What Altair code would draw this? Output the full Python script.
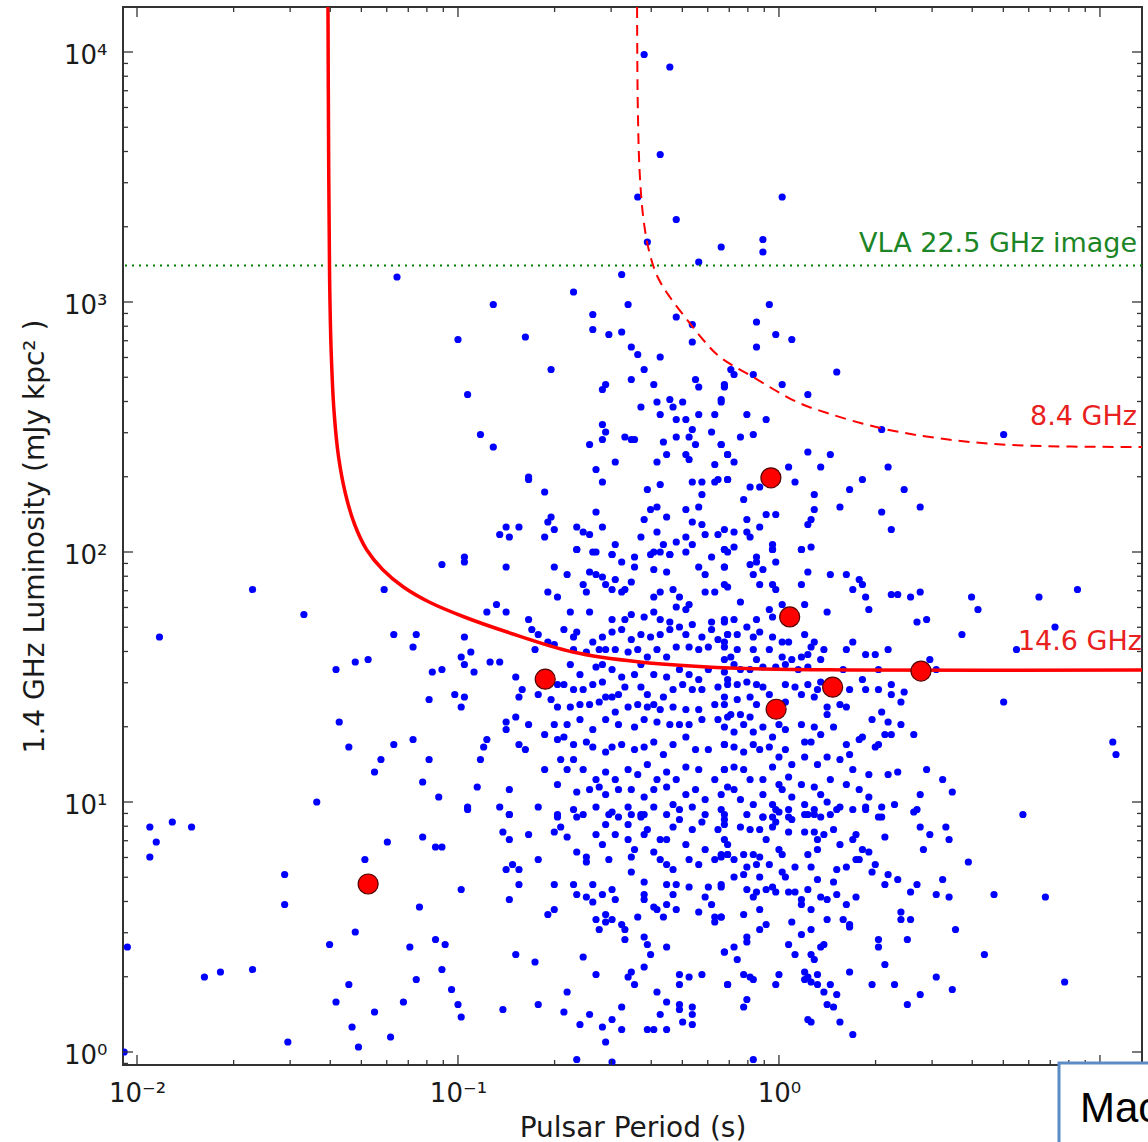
import altair as alt
import pandas as pd

# ---------------- data ----------------
# blue pulsars, stored as (log10 period [s], log10 luminosity [mJy kpc^2])
top_strays = [(-0.42, 3.99), (-0.34, 3.94), (-0.37, 3.59), (-0.44, 3.42), (-0.32, 3.33),
              (-0.41, 3.24), (-0.25, 3.16), (-1.19, 3.10), (0.01, 3.42), (-0.05, 3.25),
              (-0.05, 3.20), (-0.18, 3.22)]

upper_left = [(-0.49, 3.11), (-0.64, 3.04), (-0.89, 2.99), (-0.47, 2.99), (-0.58, 2.95), (-0.32, 2.94),
              (-0.27, 2.91), (-0.58, 2.89), (-0.53, 2.87), (-0.49, 2.88), (-1.00, 2.85), (-0.79, 2.86),
              (-0.46, 2.82), (-0.44, 2.79), (-0.37, 2.78), (-0.27, 2.84), (-0.71, 2.73), (-0.42, 2.73),
              (-0.54, 2.67), (-0.55, 2.65), (-0.46, 2.69), (-0.39, 2.67), (-0.26, 2.69), (-0.25, 2.66),
              (-0.17, 2.67), (-0.97, 2.63), (-0.43, 2.58), (-0.38, 2.60), (-0.34, 2.61), (-0.30, 2.60),
              (-0.33, 2.58), (-0.37, 2.55), (-0.32, 2.53), (-0.29, 2.53), (-0.25, 2.55), (-0.20, 2.55),
              (-0.18, 2.61), (-0.55, 2.51), (-0.54, 2.48), (-0.55, 2.45), (-0.59, 2.43), (-0.48, 2.46),
              (-0.46, 2.45), (-0.45, 2.45), (-0.36, 2.44), (-0.32, 2.46), (-0.27, 2.49), (-0.28, 2.46),
              (-0.26, 2.43), (-0.21, 2.48), (-0.18, 2.43), (-0.16, 2.39), (-0.93, 2.47), (-0.89, 2.42),
              (-0.51, 2.36), (-0.57, 2.33), (-0.38, 2.36), (-0.35, 2.39), (-0.29, 2.39), (-0.28, 2.37),
              (-0.20, 2.35), (-0.55, 2.28), (-0.41, 2.25), (-0.37, 2.27), (-0.78, 2.29), (-0.78, 2.30),
              (-0.73, 2.24), (-0.27, 2.28), (-0.24, 2.28), (-0.20, 2.28), (-0.19, 2.29), (-0.16, 2.29),
              (-0.24, 2.23), (-0.57, 2.16), (-0.42, 2.13), (-0.40, 2.17), (-0.38, 2.18), (-0.35, 2.14),
              (-0.29, 2.17), (-0.25, 2.18), (-0.27, 2.12), (-0.24, 2.11), (-0.71, 2.14), (-0.72, 2.12),
              (-0.70, 2.09), (-0.85, 2.10), (-0.81, 2.10), (-0.87, 2.07), (-0.84, 2.06), (-0.73, 2.06),
              (-0.63, 2.10), (-0.61, 2.08), (-0.59, 2.07), (-0.55, 2.10), (-0.51, 2.03), (-0.43, 2.06),
              (-0.38, 2.08), (-0.36, 2.03), (-0.32, 2.04), (-0.29, 2.06), (-0.27, 2.03), (-0.23, 2.07),
              (-0.19, 2.07), (-0.17, 2.01), (-0.63, 2.01), (-0.57, 2.00), (-0.52, 1.99), (-0.39, 2.00),
              (-0.34, 1.99), (-0.98, 1.98)]

upper_right = [(-0.03, 2.99), (-0.07, 2.92), (-0.01, 2.87), (0.04, 2.85), (-0.07, 2.82), (0.18, 2.72),
               (-0.15, 2.73), (-0.14, 2.71), (-0.08, 2.71), (0.01, 2.67), (-0.17, 2.66), (0.09, 2.63),
               (-0.18, 2.60), (0.32, 2.49), (0.70, 2.47), (-0.10, 2.55), (-0.04, 2.53), (-0.12, 2.46),
               (-0.08, 2.47), (-0.18, 2.43), (-0.16, 2.39), (-0.14, 2.36), (0.09, 2.40), (0.16, 2.39),
               (0.03, 2.34), (0.13, 2.34), (0.34, 2.34), (-0.16, 2.29), (0.05, 2.28), (-0.09, 2.26),
               (-0.06, 2.26), (-0.11, 2.21), (0.11, 2.23), (0.22, 2.25), (0.26, 2.29), (0.39, 2.25),
               (0.19, 2.18), (0.11, 2.17), (0.32, 2.16), (0.44, 2.18), (-0.04, 2.15), (-0.01, 2.15),
               (-0.10, 2.13), (0.10, 2.13), (0.09, 2.11), (0.35, 2.09), (-0.17, 2.09), (-0.14, 2.08),
               (-0.06, 2.10), (-0.10, 2.08), (-0.09, 2.06), (-0.14, 2.02), (-0.17, 2.01), (-0.02, 2.03),
               (-0.02, 2.01), (0.07, 2.01), (0.10, 2.02), (-0.07, 1.98)]

mid_left = [(-1.05, 1.95), (-0.98, 1.96), (-0.85, 1.94), (-0.70, 1.94), (-0.66, 1.91), (-0.63, 2.01),
            (-0.58, 2.00), (-0.59, 1.92), (-0.57, 1.91), (-0.55, 1.90), (-0.54, 1.87), (-0.52, 1.99),
            (-0.49, 1.96), (-0.51, 1.89), (-0.48, 1.85), (-0.45, 1.94), (-0.46, 1.88), (-0.45, 1.98),
            (-0.40, 1.99), (-0.39, 1.93), (-0.37, 2.00), (-0.34, 1.99), (-0.35, 1.92), (-0.29, 2.00),
            (-0.25, 1.94), (-0.23, 1.91), (-0.21, 1.98), (-0.17, 1.94), (-0.16, 2.00), (-0.72, 1.84),
            (-0.69, 1.82), (-0.61, 1.87), (-0.60, 1.84), (-0.52, 1.85), (-0.49, 1.84), (-0.39, 1.82),
            (-0.37, 1.84), (-0.33, 1.85), (-0.31, 1.82), (-0.28, 1.79), (-0.23, 1.84), (-0.20, 1.84),
            (-0.16, 1.86), (-0.88, 1.79), (-0.91, 1.76), (-0.85, 1.76), (-0.65, 1.76), (-0.59, 1.76),
            (-0.52, 1.73), (-0.48, 1.73), (-0.46, 1.75), (-0.42, 1.74), (-0.39, 1.76), (-0.37, 1.73),
            (-0.34, 1.72), (-0.32, 1.78), (-0.29, 1.77), (-0.27, 1.71), (-0.21, 1.72), (-0.17, 1.73),
            (-0.78, 1.73), (-0.77, 1.69), (-0.75, 1.67), (-0.67, 1.69), (-0.63, 1.68), (-0.64, 1.66),
            (-0.58, 1.64), (-0.55, 1.66), (-0.52, 1.68), (-0.49, 1.69), (-0.46, 1.65), (-0.43, 1.67),
            (-0.40, 1.66), (-0.37, 1.67), (-0.34, 1.69), (-0.31, 1.70), (-0.29, 1.67), (-0.24, 1.66),
            (-0.21, 1.69), (-0.19, 1.65), (-0.16, 1.67), (-0.98, 1.66), (-0.99, 1.58), (-0.96, 1.60),
            (-0.98, 1.55), (-0.90, 1.56), (-0.87, 1.56), (-0.95, 1.52), (-1.05, 1.53), (-0.76, 1.61),
            (-0.72, 1.64), (-0.70, 1.63), (-0.64, 1.61), (-0.60, 1.60), (-0.56, 1.61), (-0.54, 1.61),
            (-0.51, 1.61), (-0.47, 1.60), (-0.44, 1.61), (-0.41, 1.58), (-0.38, 1.61), (-0.35, 1.58),
            (-0.32, 1.62), (-0.28, 1.62), (-0.25, 1.61), (-0.22, 1.62), (-0.17, 1.62), (-0.65, 1.55),
            (-0.62, 1.51), (-0.57, 1.54), (-0.55, 1.55), (-0.52, 1.53), (-0.49, 1.50), (-0.45, 1.51),
            (-0.43, 1.55), (-0.39, 1.51), (-0.35, 1.50), (-0.31, 1.53), (-0.28, 1.51), (-0.25, 1.49),
            (-0.22, 1.53), (-0.17, 1.52), (-0.82, 1.50), (-0.75, 1.43), (-0.71, 1.41), (-0.69, 1.47),
            (-0.67, 1.47), (-0.64, 1.45), (-0.61, 1.45), (-0.58, 1.47), (-0.55, 1.48), (-0.52, 1.42),
            (-0.50, 1.43), (-0.48, 1.46), (-0.43, 1.46), (-0.41, 1.43), (-0.39, 1.39), (-0.36, 1.42),
            (-0.33, 1.45), (-0.30, 1.47), (-0.27, 1.45), (-0.24, 1.45), (-0.19, 1.46), (-0.16, 1.47),
            (-1.01, 1.43), (-0.98, 1.42), (-0.99, 1.38), (-0.81, 1.42), (-0.80, 1.45), (-0.69, 1.38),
            (-0.65, 1.38), (-0.62, 1.39), (-0.59, 1.39), (-0.56, 1.40), (-0.54, 1.42), (-0.51, 1.36),
            (-0.47, 1.38), (-0.44, 1.39), (-0.41, 1.38), (-0.37, 1.37), (-0.33, 1.38), (-0.29, 1.37),
            (-0.25, 1.37), (-0.20, 1.39), (-0.17, 1.39), (-0.85, 1.32), (-0.82, 1.34), (-0.78, 1.31),
            (-0.85, 1.29), (-0.70, 1.31), (-0.66, 1.31), (-0.62, 1.33), (-0.58, 1.29), (-0.54, 1.33),
            (-0.50, 1.31), (-0.45, 1.30), (-0.42, 1.33), (-0.38, 1.32), (-0.34, 1.31), (-0.31, 1.31),
            (-0.28, 1.31), (-0.24, 1.33), (-0.19, 1.33), (-0.16, 1.34), (-0.91, 1.25), (-0.92, 1.22),
            (-0.93, 1.17), (-0.81, 1.23), (-0.79, 1.21), (-0.73, 1.27), (-0.69, 1.25), (-0.67, 1.26),
            (-0.64, 1.23), (-0.60, 1.24), (-0.58, 1.22), (-0.54, 1.20), (-0.52, 1.22), (-0.49, 1.23),
            (-0.45, 1.21), (-0.42, 1.22), (-0.39, 1.24), (-0.36, 1.19), (-0.33, 1.23), (-0.29, 1.26),
            (-0.26, 1.21), (-0.22, 1.21), (-0.17, 1.23), (-0.73, 1.13), (-0.68, 1.17), (-0.64, 1.17),
            (-0.66, 1.13), (-0.61, 1.13), (-0.57, 1.09), (-0.54, 1.12), (-0.51, 1.09), (-0.47, 1.13),
            (-0.44, 1.11), (-0.41, 1.15), (-0.38, 1.09), (-0.35, 1.12), (-0.32, 1.09), (-0.29, 1.14),
            (-0.25, 1.13), (-0.20, 1.09), (-0.17, 1.13), (-0.94, 1.06), (-0.84, 1.05), (-0.69, 1.07),
            (-0.63, 1.04), (-0.59, 1.05), (-0.56, 1.06), (-0.54, 1.03), (-0.50, 1.05), (-0.46, 1.05),
            (-0.42, 1.02), (-0.39, 1.05), (-0.35, 1.06), (-0.33, 0.99), (-0.29, 1.03), (-0.26, 1.05),
            (-0.23, 1.01), (-0.18, 1.03), (-0.16, 1.06), (-0.97, 0.98), (-0.87, 0.98), (-0.84, 0.95),
            (-0.75, 0.98), (-0.69, 0.95), (-0.64, 0.97), (-0.61, 0.95), (-0.57, 0.98), (-0.52, 0.96),
            (-0.47, 0.98), (-0.43, 0.95), (-0.39, 0.98), (-0.35, 0.95), (-0.31, 0.97), (-0.27, 0.98),
            (-0.23, 0.95), (-0.18, 0.97)]

mid_right = [(-0.17, 1.94), (-0.17, 1.87), (-0.09, 1.95), (-0.07, 1.96), (-0.08, 1.91), (-0.05, 1.93),
             (-0.06, 1.87), (-0.01, 1.96), (-0.02, 2.01), (0.07, 2.01), (-0.02, 1.87), (-0.01, 1.85),
             (0.07, 1.87), (0.09, 1.92), (0.16, 1.91), (0.21, 1.91), (0.25, 1.89), (0.26, 1.87),
             (0.23, 1.85), (0.27, 1.82), (0.28, 1.77), (0.35, 1.83), (0.37, 1.83), (0.41, 1.82),
             (0.44, 1.84), (0.60, 1.82), (0.62, 1.77), (0.57, 1.67), (0.46, 1.73), (0.43, 1.72),
             (-0.12, 1.80), (-0.14, 1.73), (-0.17, 1.72), (-0.10, 1.70), (-0.07, 1.73), (-0.03, 1.77),
             (-0.02, 1.74), (0.01, 1.79), (0.08, 1.79), (0.15, 1.76), (-0.16, 1.67), (-0.17, 1.64),
             (-0.13, 1.67), (-0.08, 1.66), (-0.06, 1.68), (-0.02, 1.66), (0.01, 1.64), (0.03, 1.64),
             (0.08, 1.67), (0.11, 1.64), (0.10, 1.62), (0.14, 1.61), (0.13, 1.57), (0.09, 1.59),
             (0.07, 1.58), (0.04, 1.57), (0.01, 1.58), (-0.03, 1.61), (-0.08, 1.61), (-0.07, 1.57),
             (-0.13, 1.61), (-0.15, 1.58), (-0.14, 1.55), (-0.17, 1.57), (0.21, 1.61), (0.23, 1.64),
             (0.27, 1.59), (0.30, 1.59), (0.34, 1.61), (0.47, 1.57), (0.49, 1.53), (-0.12, 1.53),
             (-0.09, 1.53), (-0.05, 1.54), (-0.01, 1.54), (0.02, 1.55), (0.06, 1.53), (0.09, 1.54),
             (0.20, 1.53), (0.26, 1.49), (0.31, 1.53), (-0.16, 1.49), (-0.13, 1.47), (-0.10, 1.48),
             (-0.07, 1.47), (-0.05, 1.46), (-0.03, 1.43), (0.02, 1.47), (0.05, 1.46), (0.09, 1.47),
             (0.07, 1.43), (0.13, 1.48), (0.12, 1.45), (0.22, 1.45), (0.27, 1.45), (0.31, 1.45),
             (0.35, 1.47), (0.39, 1.44), (0.35, 1.43), (0.38, 1.40), (-0.17, 1.42), (-0.13, 1.41),
             (-0.09, 1.42), (-0.07, 1.39), (-0.12, 1.35), (-0.15, 1.35), (-0.09, 1.34), (0.02, 1.40),
             (0.11, 1.42), (0.15, 1.38), (0.19, 1.39), (0.21, 1.38), (0.15, 1.35), (0.29, 1.33),
             (0.32, 1.36), (0.34, 1.32), (0.38, 1.31), (0.42, 1.27), (0.33, 1.27), (0.35, 1.27),
             (-0.17, 1.30), (-0.14, 1.28), (-0.11, 1.31), (-0.08, 1.28), (-0.05, 1.30), (0.00, 1.31),
             (-0.02, 1.26), (0.02, 1.29), (0.07, 1.31), (0.11, 1.30), (0.13, 1.27), (0.17, 1.30),
             (0.10, 1.24), (0.08, 1.24), (0.21, 1.23), (0.22, 1.19), (0.25, 1.25), (0.30, 1.22),
             (0.31, 1.23), (0.26, 1.26), (-0.17, 1.23), (-0.14, 1.22), (-0.11, 1.20), (-0.08, 1.23),
             (-0.06, 1.21), (-0.03, 1.22), (0.00, 1.18), (0.02, 1.21), (0.04, 1.15), (0.08, 1.18),
             (0.12, 1.15), (0.15, 1.18), (0.19, 1.17), (0.23, 1.13), (0.28, 1.11), (0.34, 1.11),
             (0.37, 1.12), (0.46, 1.13), (0.51, 1.09), (0.54, 1.04), (0.44, 1.03), (-0.17, 1.13),
             (-0.14, 1.14), (-0.11, 1.13), (-0.09, 1.09), (-0.05, 1.09), (-0.02, 1.14), (0.00, 1.07),
             (0.03, 1.10), (0.07, 1.07), (0.11, 1.06), (0.13, 1.03), (0.16, 1.09), (0.21, 1.07),
             (0.25, 1.05), (0.28, 1.02), (0.32, 0.98), (0.36, 0.99), (-0.14, 1.05), (-0.12, 1.01),
             (-0.08, 0.99), (-0.05, 1.03), (-0.02, 0.99), (0.01, 1.05), (0.04, 1.02), (0.08, 0.99),
             (0.11, 0.97), (0.15, 1.00), (0.19, 0.98), (0.23, 0.97), (0.27, 0.98), (0.31, 0.94),
             (0.43, 0.97), (-0.17, 0.95), (-0.10, 0.95), (-0.05, 0.94), (-0.01, 0.97), (0.03, 0.94),
             (0.09, 0.95)]

low_left = [(-0.97, 0.97), (-0.84, 0.95), (-0.86, 0.88), (-0.84, 0.85), (-0.78, 0.87), (-1.05, 0.82),
            (-0.75, 0.77), (-0.85, 0.73), (-0.83, 0.75), (-0.81, 0.73), (-0.81, 0.67), (-0.84, 0.61),
            (-0.99, 0.65), (-0.69, 0.94), (-0.70, 0.88), (-0.68, 0.90), (-0.66, 0.86), (-0.63, 0.94),
            (-0.63, 0.80), (-0.60, 0.78), (-0.60, 0.76), (-0.57, 0.87), (-0.55, 0.83), (-0.54, 0.91),
            (-0.53, 0.95), (-0.50, 0.94), (-0.51, 0.87), (-0.46, 0.95), (-0.47, 0.91), (-0.47, 0.85),
            (-0.45, 0.81), (-0.46, 0.78), (-0.43, 0.94), (-0.42, 0.95), (-0.42, 0.87), (-0.41, 0.89),
            (-0.39, 0.80), (-0.37, 0.85), (-0.35, 0.85), (-0.33, 0.90), (-0.31, 0.93), (-0.29, 0.83),
            (-0.27, 0.89), (-0.24, 0.92), (-0.23, 0.81), (-0.19, 0.89), (-0.17, 0.93), (-0.16, 0.83),
            (-0.18, 0.78), (-0.53, 0.77), (-0.46, 0.72), (-0.42, 0.68), (-0.37, 0.77), (-0.35, 0.75),
            (-0.33, 0.73), (-0.28, 0.77), (-0.25, 0.75), (-0.20, 0.77), (-0.16, 0.79), (-0.70, 0.67),
            (-0.64, 0.67), (-0.63, 0.63), (-0.60, 0.62), (-0.58, 0.67), (-0.58, 0.60), (-0.55, 0.63),
            (-0.52, 0.65), (-0.51, 0.61), (-0.42, 0.63), (-0.42, 0.61), (-0.39, 0.58), (-0.38, 0.57),
            (-0.35, 0.59), (-0.33, 0.63), (-0.35, 0.67), (-0.32, 0.67), (-0.28, 0.66), (-0.23, 0.62),
            (-0.21, 0.59), (-0.22, 0.66), (-0.18, 0.67), (-0.32, 0.57), (-0.36, 0.54), (-0.44, 0.54),
            (-0.57, 0.53), (-0.54, 0.55), (-0.52, 0.53), (-0.49, 0.51), (-0.48, 0.49), (-0.56, 0.49),
            (-0.54, 0.52), (-0.48, 0.45), (-0.72, 0.55), (-0.70, 0.57), (-0.25, 0.56), (-0.20, 0.54),
            (-0.18, 0.54), (-0.20, 0.52), (-0.42, 0.46), (-0.41, 0.43), (-0.40, 0.39), (-0.35, 0.42),
            (-0.17, 0.40), (-0.16, 0.27), (-1.04, 0.43), (-1.05, 0.33), (-1.02, 0.25), (-1.00, 0.19),
            (-0.99, 0.14), (-0.86, 0.17), (-0.82, 0.39), (-0.76, 0.36), (-0.75, 0.19), (-0.66, 0.24),
            (-0.67, 0.16), (-0.61, 0.38), (-0.57, 0.31), (-0.62, 0.11), (-0.59, 0.15), (-0.55, 0.10),
            (-0.54, 0.04), (-0.52, 0.13), (-0.49, 0.18), (-0.49, 0.09), (-0.47, 0.30), (-0.46, 0.32),
            (-0.45, 0.27), (-0.42, 0.34), (-0.38, 0.24), (-0.37, 0.15), (-0.41, 0.09), (-0.39, 0.09),
            (-0.35, 0.09), (-0.35, 0.20), (-0.31, 0.19), (-0.31, 0.17), (-0.31, 0.31), (-0.31, 0.27),
            (-0.28, 0.30), (-0.27, 0.18), (-0.27, 0.15), (-0.30, 0.12), (-0.27, 0.11), (-0.24, 0.31),
            (-0.63, -0.03), (-0.52, -0.04)]

low_right = [(-0.17, 0.91), (-0.17, 0.85), (-0.18, 0.79), (-0.16, 0.79), (-0.14, 0.77), (-0.12, 0.90),
             (-0.11, 0.79), (-0.09, 0.89), (-0.06, 0.89), (-0.08, 0.79), (-0.06, 0.78), (-0.05, 0.94),
             (-0.02, 0.94), (0.00, 0.96), (0.03, 0.97), (0.04, 0.93), (0.08, 0.95), (0.11, 0.95),
             (0.13, 0.94), (0.16, 0.95), (0.18, 0.97), (-0.01, 0.92), (-0.02, 0.90), (-0.04, 0.85),
             (0.03, 0.88), (0.08, 0.88), (0.11, 0.88), (0.12, 0.85), (0.14, 0.87), (0.17, 0.89),
             (0.19, 0.83), (0.23, 0.85), (0.24, 0.87), (0.26, 0.81), (0.28, 0.80), (0.25, 0.77),
             (0.27, 0.97), (0.32, 0.94), (0.33, 0.86), (0.42, 0.96), (0.44, 0.90), (0.47, 0.87),
             (0.52, 0.90), (0.53, 0.85), (0.45, 0.81), (0.59, 0.76), (-0.10, 0.74), (-0.07, 0.75),
             (-0.03, 0.75), (0.00, 0.81), (0.01, 0.79), (0.05, 0.74), (0.09, 0.79), (0.10, 0.74),
             (0.12, 0.81), (0.18, 0.73), (0.21, 0.74), (0.24, 0.77), (0.30, 0.75), (0.29, 0.72),
             (0.34, 0.71), (0.33, 0.67), (0.37, 0.69), (0.41, 0.64), (0.43, 0.67), (0.49, 0.63),
             (0.53, 0.62), (0.51, 0.69), (0.67, 0.63), (-0.18, 0.66), (-0.14, 0.70), (-0.11, 0.71),
             (-0.10, 0.65), (-0.07, 0.64), (-0.08, 0.62), (-0.06, 0.70), (-0.04, 0.65), (-0.02, 0.66),
             (-0.01, 0.64), (0.01, 0.72), (0.02, 0.70), (0.03, 0.64), (0.05, 0.64), (0.09, 0.65),
             (0.07, 0.61), (0.07, 0.59), (0.10, 0.57), (0.12, 0.69), (0.17, 0.68), (0.13, 0.62),
             (0.15, 0.61), (0.18, 0.63), (0.21, 0.59), (0.24, 0.62), (-0.11, 0.55), (-0.06, 0.57),
             (0.04, 0.52), (-0.04, 0.51), (-0.06, 0.49), (0.07, 0.47), (0.10, 0.49), (0.15, 0.53),
             (0.20, 0.53), (0.22, 0.51), (0.22, 0.50), (0.38, 0.56), (0.38, 0.53), (0.41, 0.53),
             (0.55, 0.49), (-0.18, 0.54), (-0.10, 0.46), (-0.10, 0.44), (-0.14, 0.42), (-0.17, 0.40),
             (-0.13, 0.37), (0.03, 0.43), (0.05, 0.39), (0.10, 0.39), (0.11, 0.37), (0.13, 0.42),
             (0.14, 0.43), (0.22, 0.32), (0.31, 0.45), (0.31, 0.42), (0.33, 0.35), (0.40, 0.45),
             (-0.11, 0.31), (-0.09, 0.30), (-0.08, 0.29), (-0.16, 0.27), (0.00, 0.31), (-0.01, 0.27),
             (0.08, 0.32), (0.09, 0.30), (0.12, 0.31), (0.08, 0.29), (0.10, 0.28), (0.12, 0.27),
             (0.16, 0.27), (0.14, 0.24), (0.18, 0.23), (-0.10, 0.21), (-0.11, 0.18), (0.15, 0.19),
             (0.17, 0.18), (0.29, 0.27), (0.36, 0.27), (0.49, 0.30), (0.54, 0.25), (0.44, 0.23),
             (0.40, 0.19), (0.09, 0.13), (0.10, 0.12), (0.19, 0.12), (0.23, 0.07), (0.64, 0.39),
             (-0.08, -0.03)]

left_wing = [(-1.64, 1.85), (-1.48, 1.75), (-1.93, 1.66), (-1.38, 1.53), (-1.23, 1.85), (-1.13, 1.67),
             (-1.14, 1.62), (-1.08, 1.52), (-1.09, 1.41), (-1.14, 1.25), (-1.20, 1.23), (-1.34, 1.22),
             (-1.24, 1.17), (-1.09, 1.17), (-1.37, 1.32), (-1.32, 1.56), (-1.28, 1.57), (-1.20, 1.67),
             (-1.06, 1.02), (-1.11, 1.08), (-1.26, 1.12), (-1.44, 1.00), (-1.22, 0.84), (-1.11, 0.86),
             (-1.29, 0.77), (-1.07, 0.82), (-1.12, 0.58), (-1.07, 0.45), (-1.15, 0.42), (-1.32, 0.48),
             (-1.40, 0.43), (-1.13, 0.29), (-1.17, 0.20), (-1.26, 0.16), (-1.54, 0.71), (-1.54, 0.59),
             (-1.38, 0.20), (-1.34, 0.27), (-1.21, 0.06), (-1.33, 0.10), (-1.31, 0.02), (-1.53, 0.04),
             (-1.64, 0.33), (-1.96, 0.90), (-1.94, 0.84), (-1.96, 0.78), (-1.89, 0.92), (-1.83, 0.90),
             (-2.03, 0.42), (-2.04, 0.00), (-1.79, 0.30), (-1.74, 0.32)]

right_wing = [(0.81, 1.82), (0.74, 1.61), (1.04, 1.24), (1.05, 1.19), (0.89, 0.28), (0.93, 1.85),
              (0.86, 1.70), (0.76, 0.95), (0.83, 0.62), (0.70, 1.40)]

# red highlighted pulsars
red_period = [0.0525, 0.187, 0.944, 1.08, 0.98, 1.47, 2.77]
red_lum = [4.7, 31.0, 198.0, 55.0, 23.5, 28.8, 33.4]

# sensitivity curves (log10 P, log10 L)
c146_logP = [-1.405, -1.403, -1.400, -1.395, -1.386, -1.372, -1.350, -1.322, -1.285, -1.235, -1.170,
             -1.090, -0.980, -0.847, -0.642, -0.433, -0.153, 0.221, 1.15]
c146_logL = [4.18, 3.60, 3.10, 2.80, 2.56, 2.38, 2.23, 2.11, 2.01, 1.93, 1.86,
             1.80, 1.74, 1.68, 1.60, 1.56, 1.536, 1.528, 1.528]
c84_logP = [-0.442, -0.440, -0.434, -0.422, -0.404, -0.378, -0.340, -0.287, -0.237, -0.184, -0.081,
            0.056, 0.150, 0.315, 0.492, 0.72, 1.15]
c84_logL = [4.18, 3.80, 3.52, 3.33, 3.20, 3.10, 3.02, 2.93, 2.85, 2.78, 2.70,
            2.60, 2.556, 2.496, 2.456, 2.428, 2.42]
vla_lum = 1400.0

x_major = [0.01, 0.1, 1.0]          # the 10^1 label sits under the overlay box
x_major_ticks = [0.01, 0.1, 1.0, 10.0]
y_major = [1.0, 10.0, 100.0, 1000.0, 10000.0]
minor_mult = [2, 3, 4, 5, 6, 7, 8, 9]

# ---------------- build tables ----------------
blue_pairs = (top_strays + upper_left + upper_right + mid_left + mid_right
              + low_left + low_right + left_wing + right_wing)
blue_df = pd.DataFrame({"P": [10 ** p for p, _ in blue_pairs],
                        "L": [10 ** l for _, l in blue_pairs]})
red_df = pd.DataFrame({"P": red_period, "L": red_lum})
c146_df = pd.DataFrame({"P": [10 ** v for v in c146_logP], "L": [10 ** v for v in c146_logL],
                        "i": list(range(len(c146_logP)))})
c84_df = pd.DataFrame({"P": [10 ** v for v in c84_logP], "L": [10 ** v for v in c84_logL],
                       "i": list(range(len(c84_logP)))})
vla_df = pd.DataFrame({"L": [vla_lum]})

xlo, xhi = 10 ** -2.0436, 10 ** 1.131
ylo, yhi = 10 ** -0.052, 10 ** 4.18
x_minor = [m * d for d in [0.001, 0.01, 0.1, 1.0, 10.0] for m in minor_mult if xlo < m * d < xhi]
y_minor = [m * d for d in [0.1, 1.0, 10.0, 100.0, 1000.0, 10000.0] for m in minor_mult if ylo < m * d < yhi]
x_major_in = [v for v in x_major_ticks if xlo < v < xhi]
y_major_in = [v for v in y_major if ylo < v < yhi]

W, H = 1019, 1058
FONT = "DejaVu Sans"
INK = "#1a1a1a"

xs = alt.Scale(type="log", domain=[xlo, xhi], nice=False)
ys = alt.Scale(type="log", domain=[ylo, yhi], nice=False)

x_axis = alt.Axis(values=x_major, ticks=False, domain=False, grid=False, labelFlush=False,
                  labelExpr="datum.value < 0.05 ? '10⁻²' : datum.value < 0.5 ? '10⁻¹' : datum.value < 5 ? '10⁰' : '10¹'",
                  labelFont=FONT, labelFontSize=26, labelColor=INK, labelPadding=15,
                  titleFont=FONT, titleFontSize=28, titleFontWeight="normal", titleColor=INK,
                  titleY=63, titleBaseline="middle")
y_axis = alt.Axis(values=y_major, ticks=False, domain=False, grid=False, labelFlush=False,
                  labelExpr="datum.value < 5 ? '10⁰' : datum.value < 50 ? '10¹' : datum.value < 500 ? '10²' : datum.value < 5000 ? '10³' : '10⁴'",
                  labelFont=FONT, labelFontSize=26, labelColor=INK, labelPadding=16, labelOffset=3,
                  titleFont=FONT, titleFontSize=28, titleFontWeight="normal", titleColor=INK,
                  titleX=-88, titleY=H / 2, titleBaseline="middle", titleAngle=270)


def X(field="P"):
    return alt.X(f"{field}:Q", scale=xs, axis=x_axis, title="Pulsar Period (s)")


def Y(field="L"):
    return alt.Y(f"{field}:Q", scale=ys, axis=y_axis, title="1.4 GHz Luminosity (mJy kpc² )")


blue = alt.Chart(blue_df).mark_circle(size=52, color="#0000ff", opacity=1, clip=True).encode(x=X(), y=Y())

vla_line = alt.Chart(vla_df).mark_rule(color="#008000", strokeWidth=2, strokeDash=[2, 5], clip=True).encode(y=Y())

line146 = alt.Chart(c146_df).mark_line(color="#ff0000", strokeWidth=3.5, interpolate="catmull-rom",
                                       clip=True).encode(x=X(), y=Y(), order="i:Q")
line84 = alt.Chart(c84_df).mark_line(color="#ff0000", strokeWidth=2, strokeDash=[11, 7],
                                     interpolate="catmull-rom", clip=True).encode(x=X(), y=Y(), order="i:Q")

red = alt.Chart(red_df).mark_circle(size=400, color="#ff0000", opacity=1, stroke="#550000", strokeWidth=1.2).encode(
    x=X(), y=Y())

# inward ticks on all four sides
tk_color = "#333333"
xmaj_df = pd.DataFrame({"P": x_major_in})
xmin_df = pd.DataFrame({"P": x_minor})
ymaj_df = pd.DataFrame({"L": y_major_in})
ymin_df = pd.DataFrame({"L": y_minor})
ticks = []
for df, ln in [(xmaj_df, 10), (xmin_df, 5)]:
    ticks.append(alt.Chart(df).mark_rule(color=tk_color, strokeWidth=1.3).encode(
        x=X(), y=alt.value(H), y2=alt.value(H - ln)))
    ticks.append(alt.Chart(df).mark_rule(color=tk_color, strokeWidth=1.3).encode(
        x=X(), y=alt.value(0), y2=alt.value(ln)))
for df, ln in [(ymaj_df, 10), (ymin_df, 5)]:
    ticks.append(alt.Chart(df).mark_rule(color=tk_color, strokeWidth=1.3).encode(
        y=Y(), x=alt.value(0), x2=alt.value(ln)))
    ticks.append(alt.Chart(df).mark_rule(color=tk_color, strokeWidth=1.3).encode(
        y=Y(), x=alt.value(W), x2=alt.value(W - ln)))

one = pd.DataFrame({"k": [0]})
txt_vla = alt.Chart(one).mark_text(text="VLA 22.5 GHz image", font=FONT, fontSize=27, color="#1c8526",
                                   align="right", baseline="middle").encode(x=alt.value(1014), y=alt.value(237))
txt_84 = alt.Chart(one).mark_text(text="8.4 GHz", font=FONT, fontSize=27, color="#e8201e",
                                  align="right", baseline="middle").encode(x=alt.value(1014), y=alt.value(410))
txt_146 = alt.Chart(one).mark_text(text="14.6 GHz", font=FONT, fontSize=27, color="#e8201e",
                                   align="right", baseline="middle").encode(x=alt.value(1019), y=alt.value(635))

# overlay box (slide element) at the bottom-right corner
box = alt.Chart(one).mark_rect(fill="white", stroke="#5b8cc6", strokeWidth=3, clip=False).encode(
    x=alt.value(936), x2=alt.value(1100), y=alt.value(1056), y2=alt.value(1160))
box_txt = alt.Chart(one).mark_text(text="Mac", font="Liberation Sans", fontSize=42, color="black",
                                   align="left", baseline="alphabetic").encode(x=alt.value(957), y=alt.value(1115))

chart = alt.layer(blue, vla_line, line84, line146, red, *ticks, txt_vla, txt_84, txt_146, box, box_txt).properties(
    width=W, height=H,
    padding={"left": 123, "top": 7, "right": 6, "bottom": 77},
    autosize=alt.AutoSizeParams(type="none"),
    background="white",
).configure_view(stroke="#333333", strokeWidth=2)

chart.save("out.html", embed_options={"renderer": "svg", "actions": False})
